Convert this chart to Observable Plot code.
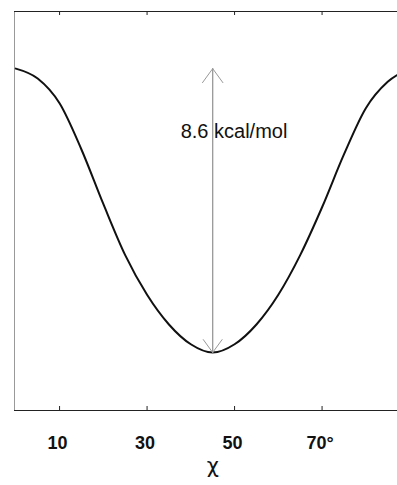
<!DOCTYPE html>
<html><head><meta charset="utf-8">
<script src="https://cdn.jsdelivr.net/npm/d3@7"></script>
<script src="https://cdn.jsdelivr.net/npm/@observablehq/plot@0.6"></script>
<style>body{margin:0;background:#fff}</style>
</head><body><div id="chart"></div>
<script>
// Torsion angle χ (degrees) and relative energy (kcal/mol)
const chi    = [0,   5,   10,   15,   20,  25,   30,   35,   40,   45, 50,   55,   60,   65,   70,  75,  80,  85,   90];
const energy = [8.6, 8.3, 7.55, 6.15, 4.5, 2.95, 1.75, 0.85, 0.25, 0,  0.25, 0.85, 1.75, 2.95, 4.4, 6.0, 7.4, 8.2, 8.6];

const tickValues = [10, 30, 50, 70];
const tickLabels = ["10", "30", "50", "70°"];
const xLabel = "χ";

const barrierChi = [45];
const barrierLow = [0];
const barrierHigh = [8.6];
const barrierLabel = ["8.6 kcal/mol"];

const data = chi.map((x, i) => ({x, e: energy[i]}));
const arrowData = barrierChi.map((x, i) => ({x, lo: barrierLow[i], hi: barrierHigh[i], label: barrierLabel[i]}));

const plot = Plot.plot({
  width: 397, height: 485,
  marginTop: 11, marginBottom: 75, marginLeft: 14, marginRight: 0,
  x: {domain: [-0.3, 87.24], axis: null},
  y: {domain: [-1.756, 10.33], axis: null},
  style: {fontFamily: "'Liberation Sans', Arial, sans-serif", background: "white", color: "#111"},
  marks: [
    Plot.frame({anchor: "left", stroke: "#999"}),
    Plot.frame({anchor: "top", stroke: "#222"}),
    Plot.frame({anchor: "bottom", stroke: "#222"}),
    Plot.tickX(tickValues, {x: d => d, insetTop: 395, stroke: "#222"}),
    Plot.tickX(tickValues, {x: d => d, insetBottom: 395, stroke: "#222"}),
    Plot.axisX(tickValues, {
      anchor: "bottom", tickSize: 0, tickPadding: 26, dx: -2,
      tickFormat: d => tickLabels[tickValues.indexOf(d)],
      fontSize: 18, fontWeight: "bold", label: null
    }),
    Plot.line(data, {x: "x", y: "e", curve: "monotone-x", stroke: "#111", strokeWidth: 2, clip: true}),
    Plot.arrow(arrowData, {x: "x", y1: "lo", y2: "hi", stroke: "#999", strokeWidth: 1, headAngle: 72, headLength: 26}),
    Plot.arrow(arrowData, {x: "x", y1: "hi", y2: "lo", stroke: "#999", strokeWidth: 1, headAngle: 72, headLength: 24}),
    Plot.text(arrowData, {x: "x", y: d => d.hi * 0.777, text: "label", textAnchor: "start", dx: -32, fontSize: 20, fill: "#111"}),
    Plot.text([xLabel], {x: barrierChi, frameAnchor: "bottom", dy: 62, text: d => d, fontSize: 21, fill: "#111", fontFamily: "'DejaVu Sans', sans-serif"})
  ]
});
document.getElementById("chart").append(plot);
</script>
</body></html>
